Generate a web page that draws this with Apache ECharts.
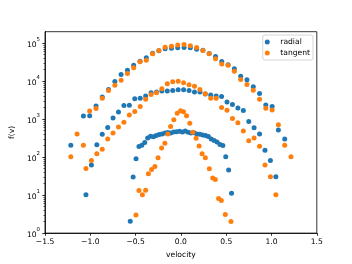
<!DOCTYPE html>
<html><head><meta charset="utf-8">
<script src="https://cdn.jsdelivr.net/npm/echarts@6/dist/echarts.min.js"></script>
<style>html,body{margin:0;padding:0;background:#fff}#c{width:352px;height:264px}</style>
</head><body><div id="c"></div>
<script>
const largeV = [-1.215,-1.146,-1.076,-1.007,-0.937,-0.868,-0.799,-0.729,-0.660,-0.590,-0.521,-0.451,-0.382,-0.312,-0.243,-0.174,-0.104,-0.035,0.035,0.104,0.174,0.243,0.312,0.382,0.451,0.521,0.590,0.660,0.729,0.799,0.868,0.937,1.007,1.076,1.146,1.215];
const radialLargeF = [206,null,1216,1230,2217,3850,6040,9770,14860,19250,26000,33430,41250,54060,62810,70800,73830,75190,76550,75800,69520,64700,53000,44590,33030,27100,21310,13420,10810,7100,4750,2353,2137,515,300,null];
const tangentLargeF = [102,405,206,1641,1896,3517,5686,7820,10550,15790,22350,32440,35480,52460,63950,77450,82240,88930,91650,84770,76550,63950,52460,38840,28250,26000,18120,11010,8150,5790,3313,1930,1743,708,206,102];

const mediumV = [-1.048,-0.988,-0.928,-0.868,-0.808,-0.749,-0.689,-0.629,-0.569,-0.509,-0.449,-0.389,-0.329,-0.269,-0.210,-0.150,-0.090,-0.030,0.030,0.090,0.150,0.210,0.269,0.329,0.389,0.449,0.509,0.569,0.629,0.689,0.749,0.808,0.868,0.928,0.988,1.048];
const radialMediumF = [10.2,61.8,213,398,606,1078,1545,2270,2311,3453,3517,4087,4952,5198,5457,5520,5686,5933,5933,5686,5137,5137,4610,4288,4087,3966,2818,2410,1965,1682,868,591,405,152,81.5,30.6];
const tangentMediumF = [50.4,81.5,122,162,300,430,617,832,1291,1582,2137,3313,4477,4952,6297,8505,9590,9940,9030,8000,7360,6040,4665,3517,3517,2013,1711,1040,798,485,271,319,194,61.8,30.6,10.2];

const smallV = [-0.559,-0.527,-0.495,-0.463,-0.431,-0.399,-0.367,-0.335,-0.303,-0.272,-0.240,-0.208,-0.176,-0.144,-0.112,-0.080,-0.048,-0.016,0.016,0.048,0.080,0.112,0.144,0.176,0.208,0.240,0.272,0.303,0.335,0.367,0.399,0.431,0.463,0.495,0.527,0.559];
const radialSmallF = [2.05,30.1,90.3,191,206,243,319,353,345,370,393,405,430,443,430,457,465,476,457,485,449,430,438,405,400,381,370,349,300,274,250,216,203,102,45.8,11.2];
const tangentSmallV = [-0.496,-0.463,-0.425,-0.389,-0.359,-0.323,-0.287,-0.252,-0.213,-0.177,-0.144,-0.114,-0.078,-0.041,-0.004,0.029,0.062,0.098,0.131,0.168,0.201,0.234,0.270,0.314,0.351,0.380,0.416,0.446,0.490,0.553];
const tangentSmallF = [3.0,13.2,10.2,13.5,36.7,47.5,56.9,95.9,175,232,405,643,968,1429,1660,1564,1230,784,449,313,197,122,95.9,49.5,28.3,25.6,8.2,7.25,3.07,2.02];

const xTicks = [-1.5,-1.0,-0.5,0.0,0.5,1.0,1.5];
const xTickLabels = ['\u22121.5','\u22121.0','\u22120.5','0.0','0.5','1.0','1.5'];
const yTicks = [1,10,100,1000,10000,100000];
const yTickExp = ['0','1','2','3','4','5'];
const yMinorMult = [2,3,4,5,6,7,8,9];

const yMinor = [];
yTicks.slice(0,5).forEach(d => yMinorMult.forEach(m => yMinor.push(d*m)));

function pairs(v, f) {
  const out = [];
  v.forEach((x, i) => { if (f[i] != null) out.push([x, f[i]]); });
  return out;
}
const radialData = [].concat(pairs(largeV, radialLargeF), pairs(mediumV, radialMediumF), pairs(smallV, radialSmallF));
const tangentData = [].concat(pairs(largeV, tangentLargeF), pairs(mediumV, tangentMediumF), pairs(tangentSmallV, tangentSmallF));

const FONT = 'DejaVu Sans';
const chart = echarts.init(document.getElementById('c'), null, {renderer:'canvas'});
chart.setOption({
  animation: false,
  backgroundColor: '#fff',
  grid: {left:44, right:35.2, top:31.7, bottom:29, show:true, borderColor:'#000', borderWidth:0.8, backgroundColor:'transparent'},
  legend: {
    orient:'vertical', right:39, top:35, padding:[3,3,3,2], itemWidth:16, itemHeight:5, itemGap:3,
    icon:'circle', textStyle:{fontFamily:FONT, fontSize:7.6, color:'#000'},
    backgroundColor:'rgba(255,255,255,0.8)', borderColor:'#ccc', borderWidth:0.8, borderRadius:2,
    data:['radial','tangent']
  },
  xAxis: {
    type:'value', min:-1.5, max:1.5, interval:0.5,
    name:'velocity', nameLocation:'middle', nameGap:14,
    nameTextStyle:{fontFamily:FONT, fontSize:7.6, color:'#000'},
    axisLine:{show:true, onZero:false, lineStyle:{color:'#000', width:0.8}},
    axisTick:{show:true, inside:false, length:2.7, lineStyle:{color:'#000', width:0.8}},
    axisLabel:{fontFamily:FONT, fontSize:7.6, color:'#000', margin:5,
      formatter: v => { const i = xTicks.findIndex(t => Math.abs(t - v) < 1e-9); return i >= 0 ? xTickLabels[i] : ''; }},
    splitLine:{show:false}
  },
  yAxis: [{
    type:'log', logBase:10, min:1, max:200000,
    name:'f(v)', nameLocation:'middle', nameGap:21,
    nameTextStyle:{fontFamily:FONT, fontSize:7.6, color:'#000'},
    axisLine:{show:true, onZero:false, lineStyle:{color:'#000', width:0.8}},
    axisTick:{show:true, inside:false, length:2.7, customValues:yTicks, lineStyle:{color:'#000', width:0.8}},
    axisLabel:{fontFamily:FONT, fontSize:7.6, color:'#000', margin:5, customValues:yTicks,
      formatter: v => { const i = yTicks.findIndex(t => Math.abs(t - v) / t < 1e-6); return i >= 0 ? '{b|10}{s|' + yTickExp[i] + '}' : ''; },
      rich:{ b:{fontFamily:FONT, fontSize:7.6, color:'#000', lineHeight:12, verticalAlign:'bottom'},
             s:{fontFamily:FONT, fontSize:5.4, color:'#000', lineHeight:6, verticalAlign:'top'} }},
    splitLine:{show:false}, minorTick:{show:false}
  },{
    type:'log', logBase:10, min:1, max:200000, position:'left',
    axisLine:{show:false, onZero:false},
    axisTick:{show:true, inside:false, length:1.6, customValues:yMinor, lineStyle:{color:'#000', width:0.6}},
    axisLabel:{show:false}, splitLine:{show:false}
  }],
  series: [
    {type:'scatter', name:'radial', data:radialData, symbol:'circle', symbolSize:5, itemStyle:{color:'#1f77b4', opacity:1}, emphasis:{disabled:true}},
    {type:'scatter', name:'tangent', data:tangentData, symbol:'circle', symbolSize:5, itemStyle:{color:'#ff7f0e', opacity:1}, emphasis:{disabled:true}}
  ]
});
</script></body></html>
